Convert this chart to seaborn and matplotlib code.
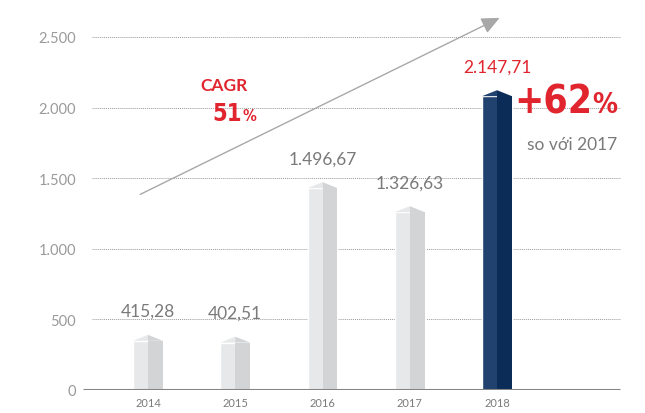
import matplotlib
matplotlib.use("Agg")
import matplotlib.pyplot as plt
import seaborn as sns
from matplotlib.patches import Polygon, Rectangle

# data
years = ["2014", "2015", "2016", "2017", "2018"]
values = [415.28, 402.51, 1496.67, 1326.63, 2147.71]
labels = ["415,28", "402,51", "1.496,67", "1.326,63", "2.147,71"]
yticks = [0, 500, 1000, 1500, 2000, 2500]
ytick_labels = ["0", "500", "1.000", "1.500", "2.000", "2.500"]

light_cols = ["#e7e8e9", "#e7e8e9", "#e7e8e9", "#e7e8e9", "#21426e"]
dark_cols = ["#d3d4d6", "#d3d4d6", "#d3d4d6", "#d3d4d6", "#0c2c58"]
label_cols = ["#7a7a7a", "#7a7a7a", "#7a7a7a", "#7a7a7a", "#e1252f"]

sns.set_style("white")
plt.rcParams["font.family"] = ["Lato", "DejaVu Sans"]

fig = plt.figure(figsize=(6.45, 4.14), dpi=100)
ax = fig.add_axes([0.1287, 0.0556, 0.8403, 0.8961])

sns.barplot(x=years, y=values, hue=years, palette=light_cols, legend=False,
            width=0.34, saturation=1, ax=ax, zorder=3)

# two-tone faces and pointed roof on each bar
roof = 42
for i, p in enumerate(ax.patches):
    x0 = p.get_x()
    w = p.get_width()
    h = p.get_height() - 25
    xc = x0 + w / 2
    p.set_height(h - roof)
    ax.add_patch(Rectangle((xc, 0), w / 2, h - roof, color=dark_cols[i], lw=0, zorder=3))
    ax.add_patch(Polygon([(x0, h - roof), (xc, h), (xc, h - roof)], closed=True,
                         color=light_cols[i], lw=0, zorder=3))
    ax.add_patch(Polygon([(xc, h - roof), (xc, h), (x0 + w, h - roof)], closed=True,
                         color=dark_cols[i], lw=0, zorder=3))
    ax.text(xc, h + 170, labels[i], ha="center", va="center", fontsize=12.5,
            color=label_cols[i])

# grid lines
for yv in yticks[1:]:
    ax.hlines(yv, -0.64, 5.41, colors="#9a9a9a", linestyles=(0, (1, 1)), lw=0.7, zorder=1)
ax.hlines(0, -0.745, 5.41, colors="#858585", lw=2.2, zorder=4)

ax.set_xlim(-0.745, 5.467)
ax.set_ylim(0, 2627)
ax.set_yticks(yticks)
ax.set_yticklabels(ytick_labels)
ax.tick_params(axis="y", length=0, pad=5, labelsize=10.5, labelcolor="#9a9a9a")
ax.tick_params(axis="x", length=0, pad=5, labelsize=8, labelcolor="#7a7a7a")
ax.set_xlabel("")
ax.set_ylabel("")
for s in ax.spines.values():
    s.set_visible(False)

# CAGR arrow
ax.annotate("", xy=(4.03, 2635), xytext=(-0.09, 1385),
            arrowprops=dict(arrowstyle="-|>,head_length=1.1,head_width=0.5",
                            color="#a8a8a8", lw=1.0, shrinkA=0, shrinkB=0),
            annotation_clip=False, zorder=2)
cond_font = dict(family=["DejaVu Sans"], stretch="condensed", fontweight="bold")
ax.text(0.87, 2160, "CAGR", ha="center", va="center", fontsize=12.5,
        fontweight="bold", color="#e1252f")
ax.text(1.08, 1962, "51", ha="right", va="center", fontsize=17,
        color="#e1252f", **cond_font)
ax.text(1.08, 1945, "%", ha="left", va="center", fontsize=11,
        color="#e1252f", **cond_font)

# +62% annotation
ax.text(5.09, 2045, "+62", ha="right", va="center", fontsize=28,
        color="#e1252f", **cond_font)
ax.text(5.09, 2022, "%", ha="left", va="center", fontsize=20,
        color="#e1252f", **cond_font)
ax.text(4.86, 1742, "so với 2017", ha="center", va="center", fontsize=12.5,
        color="#7a7a7a")

fig.savefig("out.png", dpi=100)
